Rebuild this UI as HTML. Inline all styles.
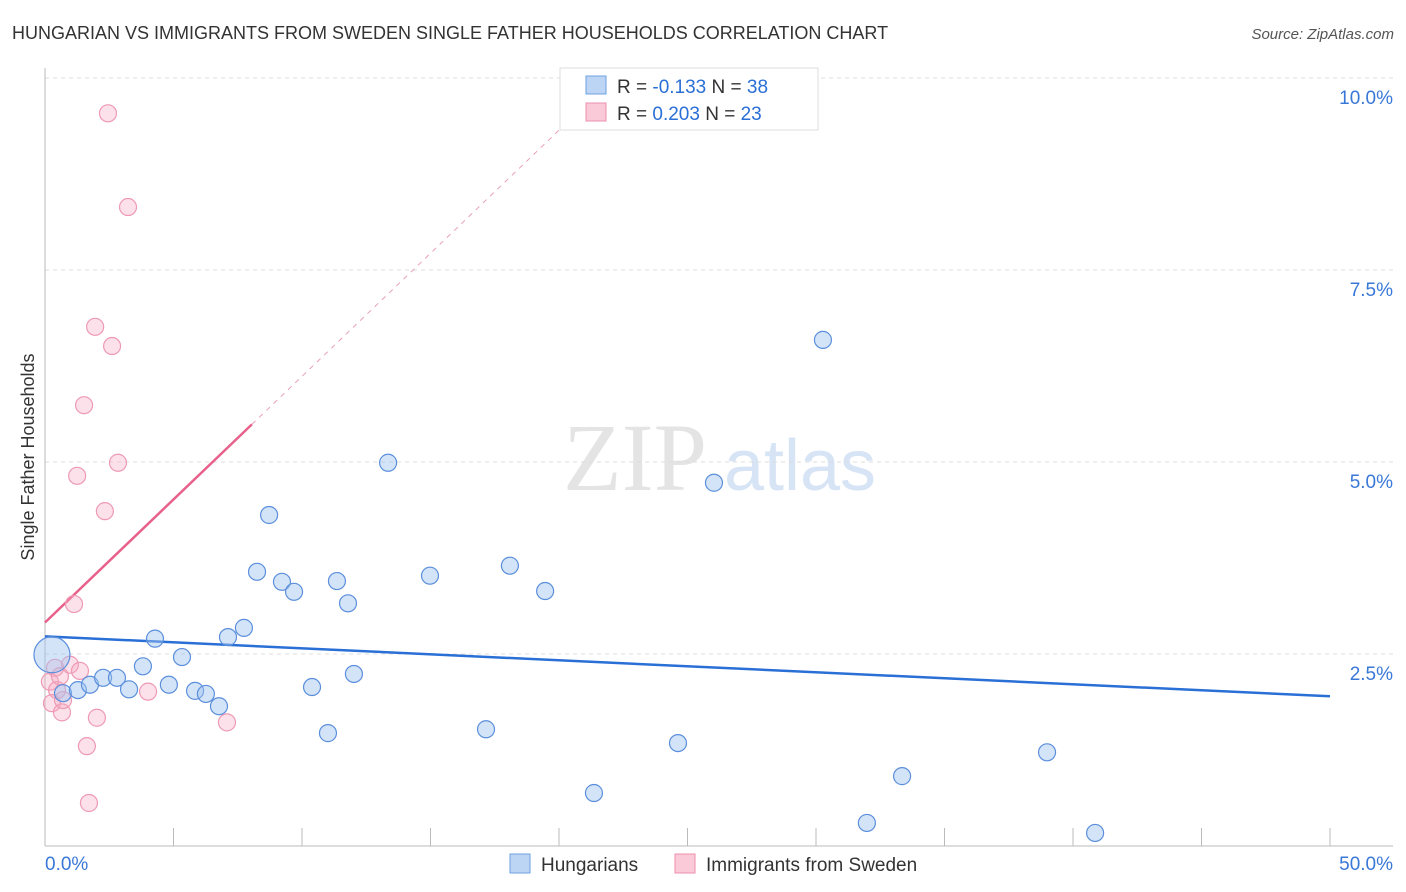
<!DOCTYPE html>
<html><head><meta charset="utf-8"><style>
body{margin:0;background:#fff;font-family:"Liberation Sans",sans-serif;}
svg{display:block}
</style></head><body>
<svg width="1406" height="892" id="chart" font-family="Liberation Sans, sans-serif">
<text x="12" y="39" font-size="18" fill="#333">HUNGARIAN VS IMMIGRANTS FROM SWEDEN SINGLE FATHER HOUSEHOLDS CORRELATION CHART</text>
<text x="1394" y="39" font-size="15" fill="#555" font-style="italic" text-anchor="end">Source: ZipAtlas.com</text>
<text x="0" y="0" transform="translate(34,457) rotate(-90)" font-size="18" fill="#333" text-anchor="middle">Single Father Households</text>
<g><text x="635" y="490" font-size="96" fill="#e4e4e4" font-family="Liberation Serif, serif" text-anchor="middle">ZIP</text><text x="800" y="490" font-size="72" fill="#d6e4f5" text-anchor="middle">atlas</text></g>
<g id="grid"></g><g id="axes"></g><g id="trend"></g><g id="pts"></g>
<g>
<rect x="560" y="68" width="258" height="62" fill="#fff" stroke="#ddd"/>
<rect x="586" y="76" width="20" height="18" fill="#bcd5f5" stroke="#6fa0e0"/>
<rect x="586" y="103" width="20" height="18" fill="#fbcad8" stroke="#ee8fab"/>
<text x="617" y="93" font-size="19" fill="#333">R = <tspan fill="#2a6fd6">-0.133</tspan>    N = <tspan fill="#2a6fd6">38</tspan></text>
<text x="617" y="120" font-size="19" fill="#333">R =  <tspan fill="#2a6fd6">0.203</tspan>    N = <tspan fill="#2a6fd6">23</tspan></text>
</g>
<g>
<rect x="510" y="854" width="20" height="19" fill="#bcd5f5" stroke="#6fa0e0"/>
<text x="541" y="871" font-size="19" fill="#333">Hungarians</text>
<rect x="675" y="854" width="20" height="19" fill="#fbcad8" stroke="#ee8fab"/>
<text x="706" y="871" font-size="19" fill="#333">Immigrants from Sweden</text>
</g>
</svg>
<script>
const blueX=[0.27,0.70,1.28,1.75,2.26,2.80,3.27,3.81,4.28,4.82,5.33,5.84,6.26,6.77,7.12,7.74,8.25,8.72,9.22,9.69,10.39,11.01,11.36,11.79,12.02,13.35,14.98,17.16,18.09,19.46,21.36,24.63,26.03,30.27,31.98,33.35,38.99,40.86];
const blueY=[2.49,1.99,2.03,2.10,2.19,2.19,2.04,2.34,2.70,2.10,2.46,2.02,1.98,1.82,2.72,2.84,3.57,4.31,3.44,3.31,2.07,1.47,3.45,3.16,2.24,4.99,3.52,1.52,3.65,3.32,0.69,1.34,4.73,6.59,0.30,0.91,1.22,0.17];
const pinkX=[2.45,3.23,1.95,2.61,1.52,1.25,2.84,2.33,1.13,0.97,1.36,0.39,0.19,0.47,0.27,0.66,0.70,2.02,4.01,7.08,1.63,1.71,0.58];
const pinkY=[9.54,8.32,6.76,6.51,5.74,4.82,4.99,4.36,3.15,2.36,2.28,2.32,2.14,2.03,1.86,1.74,1.90,1.67,2.01,1.61,1.30,0.56,2.21];
const yTicks=[2.5,5.0,7.5,10.0];
const xTickLabels=["0.0%","50.0%"];
const blueTrend=[2.73,1.95];
const pinkTrend=[2.91,5.49];
const NS="http://www.w3.org/2000/svg";
const X=v=>45+v/50*1285, Y=v=>846-v*76.8;
function mk(tag,attrs,parent){const e=document.createElementNS(NS,tag);for(const k in attrs)e.setAttribute(k,attrs[k]);document.getElementById(parent).appendChild(e);return e;}
yTicks.forEach(t=>{
 const l=mk('line',{x1:45,x2:1393,y1:Y(t),y2:Y(t),stroke:'#ddd','stroke-dasharray':'4,4'},'grid');
 
 
 const tx=mk('text',{x:1393,y:Y(t)+26,'font-size':19,fill:'#3a78d8','text-anchor':'end'},'grid');
 tx.textContent=t.toFixed(1)+'%';
 
 
});
mk('line',{x1:45,x2:45,y1:68,y2:846,stroke:'#bbb'},'axes');
mk('line',{x1:45,x2:1393,y1:846,y2:846,stroke:'#bbb'},'axes');
for(let i=0;i<=10;i++){const tk=mk('line',{x1:X(i*5),x2:X(i*5),y1:828,y2:846,stroke:'#bbb'},'axes');
 
 }
[[0,'start',45],[50,'end',1393]].forEach((a,i)=>{const t=mk('text',{x:a[2],y:870,'font-size':19,fill:'#3a78d8','text-anchor':a[1]},'axes');t.textContent=xTickLabels[i];
 
 });
const bl=mk('line',{x1:X(0),y1:Y(blueTrend[0]),x2:X(50),y2:Y(blueTrend[1]),stroke:'#2a6fd6','stroke-width':2.5},'trend');


const sl=(pinkTrend[1]-pinkTrend[0])/8.05;
const pl=mk('line',{x1:X(0),y1:Y(pinkTrend[0]),x2:X(8.05),y2:Y(pinkTrend[1]),stroke:'#e8618b','stroke-width':2.5},'trend');


const pd=mk('line',{x1:X(8.05),y1:Y(pinkTrend[1]),x2:X(20),y2:Y(pinkTrend[0]+sl*20),stroke:'#e8a0b6','stroke-width':1,'stroke-dasharray':'5,5'},'trend');


pinkX.forEach((x,i)=>{const c=mk('circle',{cx:X(x),cy:Y(pinkY[i]),r:8.5,fill:'rgba(247,170,195,0.35)',stroke:'#ee9ab4','stroke-width':1.2},'pts');
 
 });
blueX.forEach((x,i)=>{const c=mk('circle',{cx:X(x),cy:Y(blueY[i]),r:i===0?18:8.5,fill:'rgba(160,195,240,0.45)',stroke:'#5b8fdc','stroke-width':1.2},'pts');
 
 });
</script>
</body></html>
